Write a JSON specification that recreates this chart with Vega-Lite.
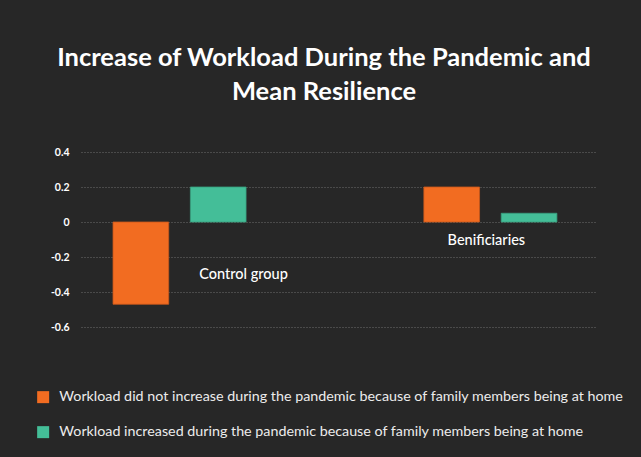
{
  "$schema": "https://vega.github.io/schema/vega-lite/v6.json",
  "autosize": {"type": "none"},
  "width": 516,
  "height": 175,
  "padding": {"left": 81, "top": 152, "right": 44, "bottom": 130},
  "background": "#272727",
  "config": {
    "font": "Lato",
    "view": {"stroke": null},
    "axisY": {
      "title": null,
      "values": [-0.6, -0.4, -0.2, 0, 0.2, 0.4],
      "labelExpr": "'' + datum.value",
      "labelOverlap": false,
      "labelFont": "Lato",
      "labelFontSize": 10.5,
      "labelFontWeight": "bold",
      "labelColor": "#ffffff",
      "labelPadding": 12,
      "domain": false,
      "ticks": false,
      "grid": true,
      "gridColor": "#6e6e6e",
      "gridDash": [1, 2],
      "gridWidth": 1
    },
    "legend": {"labelFont": "Lato"}
  },
  "title": {
    "text": ["Increase of Workload During the Pandemic and", "Mean Resilience"],
    "font": "Lato",
    "fontSize": 25.5,
    "fontWeight": "bold",
    "color": "#ffffff",
    "anchor": "middle",
    "frame": "group",
    "lineHeight": 34,
    "offset": 42,
    "dx": -15
  },
  "datasets": {
    "bars": [
      {"group": "Control group", "series": "Workload did not increase during the pandemic because of family members being at home", "value": -0.47},
      {"group": "Control group", "series": "Workload increased during the pandemic because of family members being at home", "value": 0.2},
      {"group": "Benificiaries", "series": "Workload did not increase during the pandemic because of family members being at home", "value": 0.2},
      {"group": "Benificiaries", "series": "Workload increased during the pandemic because of family members being at home", "value": 0.05}
    ]
  },
  "layer": [
    {
      "data": {"name": "bars"},
      "mark": {"type": "bar", "strokeWidth": 0.8},
      "encoding": {
        "x": {
          "field": "group",
          "type": "nominal",
          "scale": {"domain": ["Control group", "Benificiaries"], "paddingInner": 0.572, "paddingOuter": 0.116, "align": 0.444},
          "axis": null
        },
        "xOffset": {
          "field": "series",
          "type": "nominal",
          "scale": {
            "domain": [
              "Workload did not increase during the pandemic because of family members being at home",
              "Workload increased during the pandemic because of family members being at home"
            ],
            "paddingInner": 0.28,
            "paddingOuter": 0
          }
        },
        "y": {
          "field": "value",
          "type": "quantitative",
          "title": null,
          "scale": {"domain": [-0.6, 0.4], "nice": false, "zero": false}
        },
        "color": {
          "field": "series",
          "type": "nominal",
          "scale": {
            "domain": [
              "Workload did not increase during the pandemic because of family members being at home",
              "Workload increased during the pandemic because of family members being at home"
            ],
            "range": ["#f26c21", "#44be98"]
          },
          "legend": {
            "title": null,
            "orient": "none",
            "legendX": -45,
            "legendY": 238,
            "direction": "vertical",
            "symbolType": "square",
            "symbolSize": 144,
            "symbolStrokeWidth": 0,
            "symbolOpacity": 1,
            "labelFontSize": 14.3,
            "labelColor": "#ececec",
            "labelOffset": 9,
            "labelLimit": 700,
            "rowPadding": 20,
            "padding": 0
          }
        },
        "stroke": {
          "field": "series",
          "type": "nominal",
          "scale": {
            "domain": [
              "Workload did not increase during the pandemic because of family members being at home",
              "Workload increased during the pandemic because of family members being at home"
            ],
            "range": ["#c9581c", "#389f7f"]
          },
          "legend": null
        }
      }
    },
    {
      "data": {"values": [{"group": "Control group"}]},
      "mark": {"type": "text", "font": "Lato", "fontSize": 14.5, "fontWeight": 500, "color": "#ffffff", "baseline": "middle", "align": "center", "dx": 64},
      "encoding": {
        "x": {"field": "group", "type": "nominal"},
        "y": {"datum": -0.3, "type": "quantitative", "title": null},
        "text": {"field": "group"}
      }
    },
    {
      "data": {"values": [{"group": "Benificiaries"}]},
      "mark": {"type": "text", "font": "Lato", "fontSize": 14.5, "fontWeight": 500, "color": "#ffffff", "baseline": "middle", "align": "center", "dx": -4},
      "encoding": {
        "x": {"field": "group", "type": "nominal"},
        "y": {"datum": -0.11, "type": "quantitative", "title": null},
        "text": {"field": "group"}
      }
    }
  ]
}
